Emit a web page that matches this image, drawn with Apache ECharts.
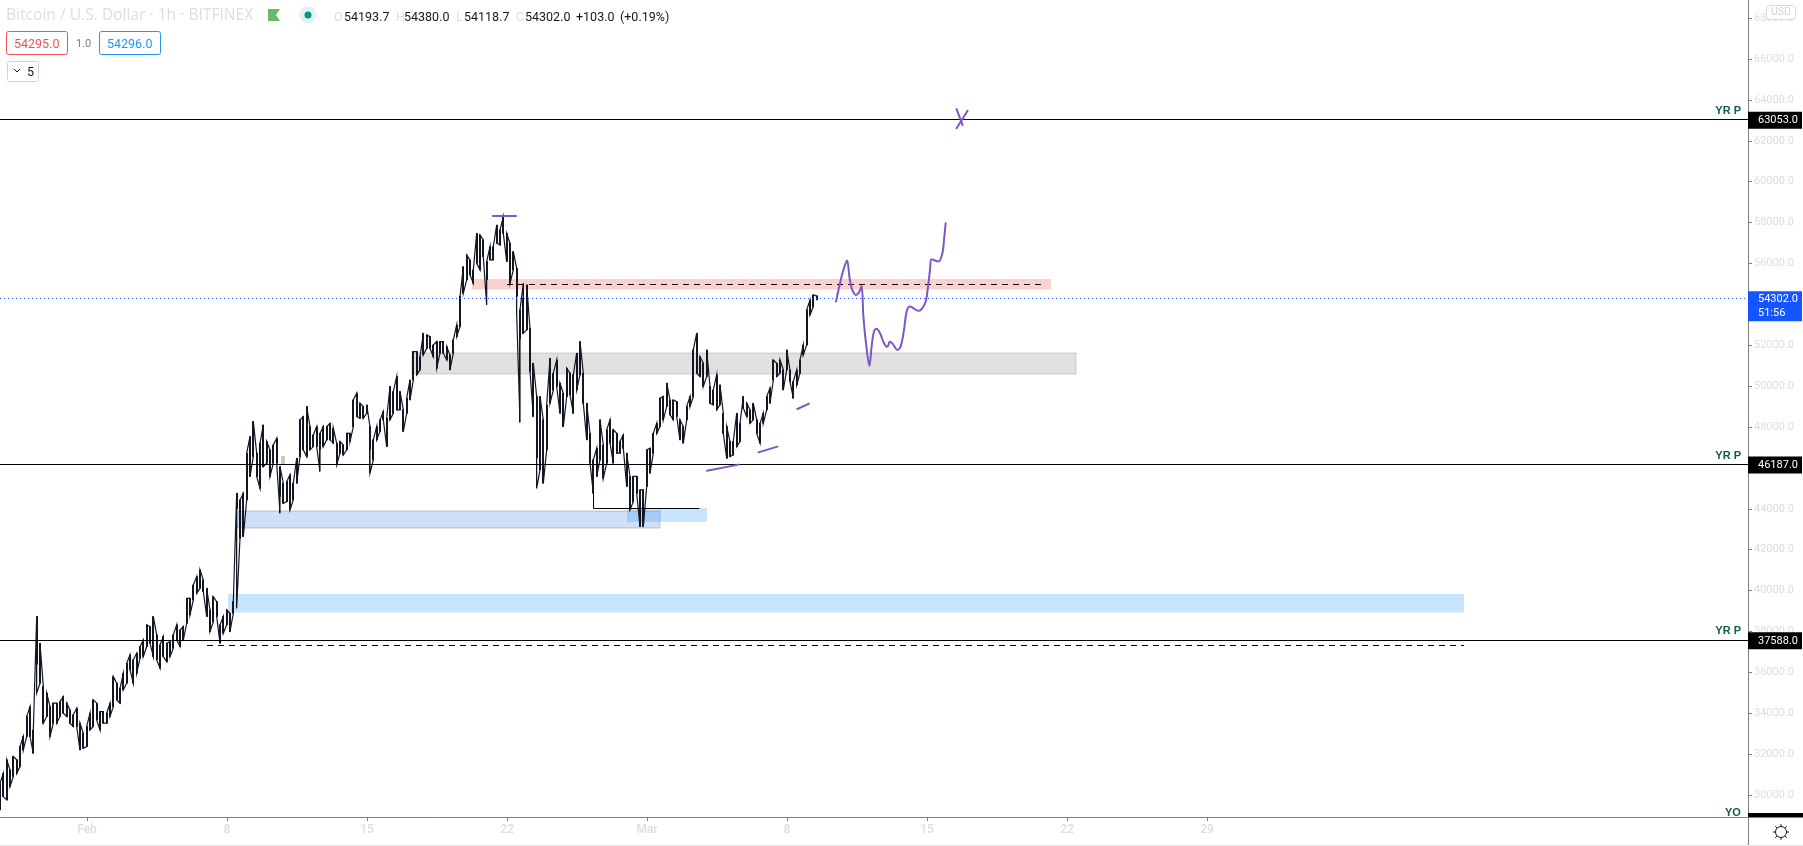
<!DOCTYPE html>
<html>
<head>
<meta charset="utf-8">
<title>Bitcoin / U.S. Dollar 1h</title>
<script src="https://cdn.jsdelivr.net/npm/echarts@6/dist/echarts.min.js"></script>
<style>
  html, body { margin: 0; padding: 0; background: #fff; }
  #chart { width: 1803px; height: 846px; }
</style>
</head>
<body>
<div id="chart"></div>
<script>
// x axis is counted in days from 1 Feb, bars are 4h apart
const FIRST_BAR_DAY = -4.35
const BAR_STEP = 1 / 6

const lows = [
  29270,29920,29760,30410,30900,31060,31390,32200,32860,32860,32040,34980,35470,33510,33840,32860,33510,33510,33840,34000,
  33840,33510,33350,33350,32200,32290,32370,33180,33350,33670,33180,33510,33510,33840,34320,34650,34490,35140,35470,36120,
  35470,35950,36690,36770,37260,37420,36770,36610,36200,36770,36520,36770,37180,37580,37260,37580,38400,38810,39540,39870,
  40110,39950,38730,37990,38480,38730,37420,37910,38320,37990,38890,39130,42560,42640,44430,45580,46550,45580,45000,46060,
  46230,45580,46230,46230,43780,44270,44350,43950,44430,45250,46550,46880,46550,46880,47040,47040,45820,47040,47370,47370,
  47210,46150,46720,46630,46880,47290,48020,48510,48430,48430,48670,45740,46390,47370,47780,48350,47040,48350,48670,48840,
  48840,47780,48670,49320,50300,50550,50790,51520,51850,51850,51440,50870,51610,51610,51280,50790,51610,52420,52910,54540,
  55190,55440,55030,56010,55680,56330,53970,56170,56170,56990,56900,57470,56090,55030,55680,53560,48220,52580,52750,50710,
  48510,45000,45900,45250,46880,49160,49810,49980,48670,48020,49490,49570,48670,49810,50550,49160,47370,46230,44760,45580,
  46390,45490,46230,47210,46230,46720,46720,46960,45090,43950,44350,44760,43130,43130,45090,45740,46720,47690,48020,48350,
  49000,48590,48350,48510,47370,47210,48350,49000,49490,50630,50470,49980,50470,49160,49080,48840,49080,47690,46470,46550,
  46630,47040,47290,48920,48510,48180,48350,47690,47210,48180,48840,49160,50300,50470,50630,49810,50790,50220,49410,50060,
  50630,51520,52010,53480,53890,54214
]
const highs = [
  30580,31060,31720,31230,31880,31720,32370,32860,33840,34320,33180,38730,37420,35300,34980,34320,34490,34490,34570,34810,
  34490,34160,33920,34240,33510,33020,33350,34000,34650,34490,34080,34080,34000,34490,35790,35470,35220,35950,36440,36850,
  36610,36930,37260,37580,38320,38240,38730,37830,37340,37750,37420,37500,37830,38320,38070,38240,39620,39620,40270,40680,
  41010,40520,40110,39050,39700,39460,38320,38730,39050,38890,39460,44760,44430,44760,46720,47530,48270,46720,47210,48100,
  47290,46880,47120,47450,46060,45250,45330,45660,45250,46470,48350,48510,49000,48020,47610,48020,47690,48020,48020,48180,
  47940,47210,47290,47120,47690,47690,49320,49650,49160,49000,49080,48020,47370,48020,48350,48750,48430,49980,49730,50470,
  49730,48840,49410,50300,51690,51690,51440,52580,52500,52420,52010,52180,52180,52180,51930,51520,52260,52990,54380,55840,
  56410,56170,55680,57470,57390,57150,56090,56820,56820,57880,57640,58290,57470,56990,56580,55760,53730,55030,54950,52830,
  51120,49490,49490,48350,49080,51360,50630,51280,50140,49650,50870,50630,50550,51610,52180,50630,49160,47690,46390,46960,
  48350,47120,47860,48350,47860,47690,47290,47610,46720,45580,45580,45580,44920,44920,46880,46960,47690,48180,49410,49490,
  50140,49320,49320,49240,48350,48020,49000,49490,51770,52580,51440,51120,51770,49980,49810,50550,50060,48670,48020,47290,
  47290,48670,48180,49490,49160,48840,49160,48350,48180,48670,49490,49900,51280,51120,51280,50790,51770,50790,50220,50790,
  51280,52010,53730,54210,54460,54410
]
// bars whose range is mostly a thin wick: index -> [body bottom, body top]
const wickBars = {
  11: [36400, 38730], 71: [44000, 44760], 84: [44600, 46060], 96: [46900, 47690], 111: [46900, 48020],
  146: [55200, 56090], 155: [54400, 55760], 156: [52300, 53730], 161: [46500, 49490], 157: [52580, 54300]
}

const yTicks = [30000,32000,34000,36000,38000,40000,42000,44000,46000,48000,50000,52000,54000,56000,58000,60000,62000,64000,66000,68000]
const xTickDays = [0, 7, 14, 21, 28, 35, 42, 49, 56]
const xTickLabels = ['Feb', '8', '15', '22', 'Mar', '8', '15', '22', '29']

const lastPrice = 54302
const countdown = '51:56'
const yearLevels = [63053, 46187, 37588]

// [day from, day to, price low, price high]
const redZone = [19.25, 48.2, 54720, 55240]
const grayZone = [16.25, 49.45, 50590, 51620]
const blueZoneA = [7.5, 28.65, 43060, 43890]
const blueZoneB = [27, 31, 43350, 44040]
const blueZoneC = [7.05, 68.85, 38920, 39830]
const smallMark = [9.7, 9.9, 46187, 46580]

const dashUpper = [[21, 54970], [47.7, 54970]]
const dashLower = [[6, 37312], [68.85, 37312]]
const blackStep = [[25.325, 44820], [25.325, 44013], [30.6, 44013]]

const purpleTop = [[20.3, 58320], [21.45, 58320]]
const purpleLow1 = [[31, 45860], [32.58, 46160]]
const purpleLow2 = [[33.57, 46760], [34.52, 47040]]
const purpleLow3 = [[35.52, 48880], [36.1, 49140]]
const crossA = [[43.48, 63550], [43.78, 62770]]
const crossB = [[44.03, 63470], [43.48, 62610]]
const forecast = [
  [37.45,54130],[37.65,55030],[37.82,55680],[38,56140],[38.12,55360],[38.23,54790],[38.45,54460],[38.62,54620],[38.73,54900],
  [38.82,53400],[38.95,52100],[39.12,50990],[39.23,51930],[39.35,52670],[39.48,52810],[39.65,52590],[39.85,52100],[40.02,51920],
  [40.15,52180],[40.32,52020],[40.52,51770],[40.68,51930],[40.85,52750],[40.98,53640],[41.15,53890],[41.57,53680],[41.9,54050],
  [42.03,54700],[42.15,55680],[42.23,56200],[42.57,56090],[42.77,56500],[42.85,57150],[42.93,57960]
]

const candles = lows.map((low, i) => {
  const body = wickBars[i] || [low, highs[i]]
  return [FIRST_BAR_DAY + i * BAR_STEP, body[0], body[1], low, highs[i]]
})

// joins the bars up so the run of them reads as one jagged stroke
const pricePath = []
lows.forEach((low, i) => {
  const x = FIRST_BAR_DAY + i * BAR_STEP
  if (i % 2) pricePath.push([x, highs[i]], [x, low])
  else pricePath.push([x, low], [x, highs[i]])
})

const PURPLE = '#7e57c2'
const FADED = '#dcdde0'
const GREEN_TXT = '#0f5c50'
const FONT = 'Roboto, sans-serif'

const zone = (z, color, border) => [
  { xAxis: z[0], yAxis: z[2], itemStyle: { color, borderColor: border || 'transparent', borderWidth: border ? 1.5 : 0 } },
  { xAxis: z[1], yAxis: z[3] },
]

const lineSeries = (data, color, width, type, smooth) => ({
  type: 'line',
  data,
  showSymbol: false,
  symbol: 'none',
  smooth: smooth || false,
  z: 5,
  lineStyle: { color, width, type: type || 'solid', cap: type ? 'butt' : 'round' },
  silent: true,
})

const levelLabel = (v) => ({
  position: 'end', distance: 0, offset: [0, 1], formatter: v.toFixed(1), color: '#fff', backgroundColor: '#000',
  fontFamily: FONT, fontSize: 11, padding: [3, 0, 2, 10], width: 44, height: 12, lineHeight: 12,
})

const levelData = []
yearLevels.forEach(v => {
  levelData.push({ yAxis: v, label: levelLabel(v) })
  levelData.push({
    yAxis: v,
    label: {
      position: 'insideEndTop', distance: [7, 3], formatter: 'YR P', color: GREEN_TXT,
      fontFamily: 'Liberation Sans', fontSize: 11, fontWeight: 'bold',
    },
  })
})

const headerText = (text, left, fill) => ({
  type: 'text', left, top: 11, z: 20, style: { text, fill: fill || '#131722', font: '12.5px ' + FONT },
})
const gearRay = (x1, y1, x2, y2) => ({
  type: 'line', z: 20, shape: { x1, y1, x2, y2 }, style: { stroke: '#131722' },
})

const option = {
  animation: false,
  backgroundColor: '#fff',
  grid: { left: 0, right: 55, top: 0, height: 817 },
  xAxis: {
    type: 'value',
    min: FIRST_BAR_DAY,
    max: 83.05,
    splitLine: { show: false },
    axisLine: { onZero: false, lineStyle: { color: '#7f7f7f' } },
    axisTick: { length: 4, lineStyle: { color: '#7f7f7f' }, customValues: xTickDays },
    axisLabel: {
      color: FADED, fontFamily: FONT, fontSize: 12, fontWeight: 500, margin: 7,
      customValues: xTickDays,
      formatter: v => xTickLabels[xTickDays.indexOf(v)],
    },
  },
  yAxis: {
    type: 'value',
    position: 'right',
    min: 28923,
    max: 68886,
    splitLine: { show: false },
    axisLine: { show: true, onZero: false, lineStyle: { color: '#7f7f7f' } },
    axisTick: { show: true, length: 4, lineStyle: { color: '#7f7f7f' }, customValues: yTicks },
    axisLabel: {
      color: FADED, fontFamily: FONT, fontSize: 11, margin: 6,
      customValues: yTicks,
      formatter: v => v.toFixed(1),
    },
  },
  series: [
    {
      type: 'candlestick',
      data: candles,
      encode: { x: 0, y: [1, 2, 3, 4] },
      barWidth: 1.6,
      z: 2,
      silent: true,
      itemStyle: { color: '#131722', color0: '#131722', borderColor: '#131722', borderColor0: '#131722', borderWidth: 1 },
    },
    {
      type: 'line',
      data: pricePath,
      showSymbol: false,
      symbol: 'none',
      z: 2,
      silent: true,
      lineStyle: { color: '#131722', width: 1.2, join: 'miter' },
    },
    {
      type: 'line',
      data: [],
      z: 4,
      silent: true,
      markArea: {
        silent: true,
        data: [
          zone(redZone, 'rgba(244,67,54,0.25)'),
          zone(grayZone, 'rgba(120,120,120,0.22)', 'rgba(120,120,120,0.2)'),
          zone(blueZoneA, 'rgba(23,92,222,0.2)', 'rgba(120,120,120,0.25)'),
          zone(blueZoneB, 'rgba(33,150,243,0.25)'),
          zone(blueZoneC, 'rgba(33,150,243,0.25)'),
          zone(smallMark, 'rgba(120,120,120,0.4)'),
        ],
      },
      markLine: {
        silent: true,
        symbol: 'none',
        animation: false,
        lineStyle: { color: '#000', width: 1, type: 'solid' },
        data: levelData,
      },
    },
    {
      type: 'line',
      data: [],
      z: 3,
      silent: true,
      markLine: {
        silent: true,
        symbol: 'none',
        lineStyle: { color: '#1455ff', width: 1, type: [1, 3] },
        data: [{
          yAxis: lastPrice,
          label: {
            position: 'end', distance: 0, offset: [0, 8], formatter: lastPrice.toFixed(1) + '\n' + countdown, color: '#fff',
            backgroundColor: '#1455ff', fontFamily: FONT, fontSize: 11, lineHeight: 14,
            padding: [1, 0, 1, 10], width: 44,
          },
        }],
      },
    },
    lineSeries(dashUpper, '#000', 1, [6, 5]),
    lineSeries(dashLower, '#000', 1, [6, 5]),
    lineSeries(blackStep, '#000', 1),
    lineSeries(purpleTop, PURPLE, 2),
    lineSeries(purpleLow1, PURPLE, 2),
    lineSeries(purpleLow2, PURPLE, 2),
    lineSeries(purpleLow3, PURPLE, 2),
    lineSeries(crossA, PURPLE, 2),
    lineSeries(crossB, PURPLE, 2),
    lineSeries(forecast, PURPLE, 2, null, 0.35),
  ],
  graphic: [
    // header
    { type: 'text', left: 6, top: 8, z: 20, style: { text: 'Bitcoin / U.S. Dollar · 1h · BITFINEX', fill: FADED, font: '15.6px "Open Sans", sans-serif' } },
    { type: 'polygon', z: 20, shape: { points: [[268, 9], [280, 9], [276, 15], [280, 21], [268, 21]] }, style: { fill: '#66bb6a' } },
    { type: 'circle', z: 20, shape: { cx: 308, cy: 15, r: 8.5 }, style: { fill: '#e0f2f1' } },
    { type: 'circle', z: 20, shape: { cx: 308, cy: 15, r: 3.5 }, style: { fill: '#009688' } },
    headerText('O', 334, FADED),
    headerText('54193.7', 344),
    headerText('H', 396, FADED),
    headerText('54380.0', 404),
    headerText('L', 456, FADED),
    headerText('54118.7', 464),
    headerText('C', 516, FADED),
    headerText('54302.0', 525),
    headerText('+103.0', 576),
    headerText('(+0.19%)', 620),
    // bid / ask boxes
    { type: 'rect', z: 20, shape: { x: 6.5, y: 31.5, width: 61, height: 23, r: 2 }, style: { fill: '#fff', stroke: '#ef5350' } },
    { type: 'text', left: 14, top: 38, z: 21, style: { text: '54295.0', fill: '#ef5350', font: '12.5px ' + FONT } },
    { type: 'text', left: 76, top: 39, z: 21, style: { text: '1.0', fill: '#787b86', font: '11px ' + FONT } },
    { type: 'rect', z: 20, shape: { x: 99.5, y: 31.5, width: 61, height: 23, r: 2 }, style: { fill: '#fff', stroke: '#2196f3' } },
    { type: 'text', left: 107, top: 38, z: 21, style: { text: '54296.0', fill: '#2196f3', font: '12.5px ' + FONT } },
    { type: 'rect', z: 20, shape: { x: 7.5, y: 61.5, width: 31, height: 20, r: 2 }, style: { fill: '#fff', stroke: '#d1d4dc' } },
    { type: 'polyline', z: 21, shape: { points: [[14, 69], [17, 72], [20, 69]] }, style: { fill: 'none', stroke: '#131722' } },
    { type: 'text', left: 27, top: 66, z: 21, style: { text: '5', fill: '#131722', font: '12.5px ' + FONT } },
    // USD button
    { type: 'rect', z: 20, shape: { x: 1766.5, y: 5.5, width: 29, height: 14, r: 3 }, style: { fill: '#fff', stroke: '#d9dae2' } },
    { type: 'text', left: 1771, top: 7, z: 21, style: { text: 'USD', fill: '#d1d4dc', font: '10.5px ' + FONT } },
    // bottom right corner
    { type: 'text', left: 1725, top: 807, z: 20, style: { text: 'YO', fill: GREEN_TXT, font: 'bold 11px "Liberation Sans"' } },
    { type: 'rect', z: 20, shape: { x: 1748, y: 813, width: 55, height: 4 }, style: { fill: '#000' } },
    { type: 'line', z: 20, shape: { x1: 1748, y1: 817.5, x2: 1803, y2: 817.5 }, style: { stroke: '#7f7f7f' } },
    { type: 'line', z: 20, shape: { x1: 1748.5, y1: 817, x2: 1748.5, y2: 845 }, style: { stroke: '#7f7f7f' } },
    { type: 'rect', z: 20, shape: { x: 0, y: 845, width: 1803, height: 1 }, style: { fill: '#e6e7ee' } },
    { type: 'circle', z: 20, shape: { cx: 1781, cy: 832, r: 5.5 }, style: { fill: 'none', stroke: '#131722' } },
    gearRay(1781, 824, 1781, 826.5),
    gearRay(1781, 837.5, 1781, 840),
    gearRay(1773, 832, 1775.5, 832),
    gearRay(1786.5, 832, 1789, 832),
    gearRay(1775.3, 826.3, 1777.1, 828.1),
    gearRay(1784.9, 835.9, 1786.7, 837.7),
    gearRay(1775.3, 837.7, 1777.1, 835.9),
    gearRay(1784.9, 828.1, 1786.7, 826.3),
  ],
}

const chart = echarts.init(document.getElementById('chart'), null, { renderer: 'canvas' })
chart.setOption(option)
</script>
</body>
</html>
